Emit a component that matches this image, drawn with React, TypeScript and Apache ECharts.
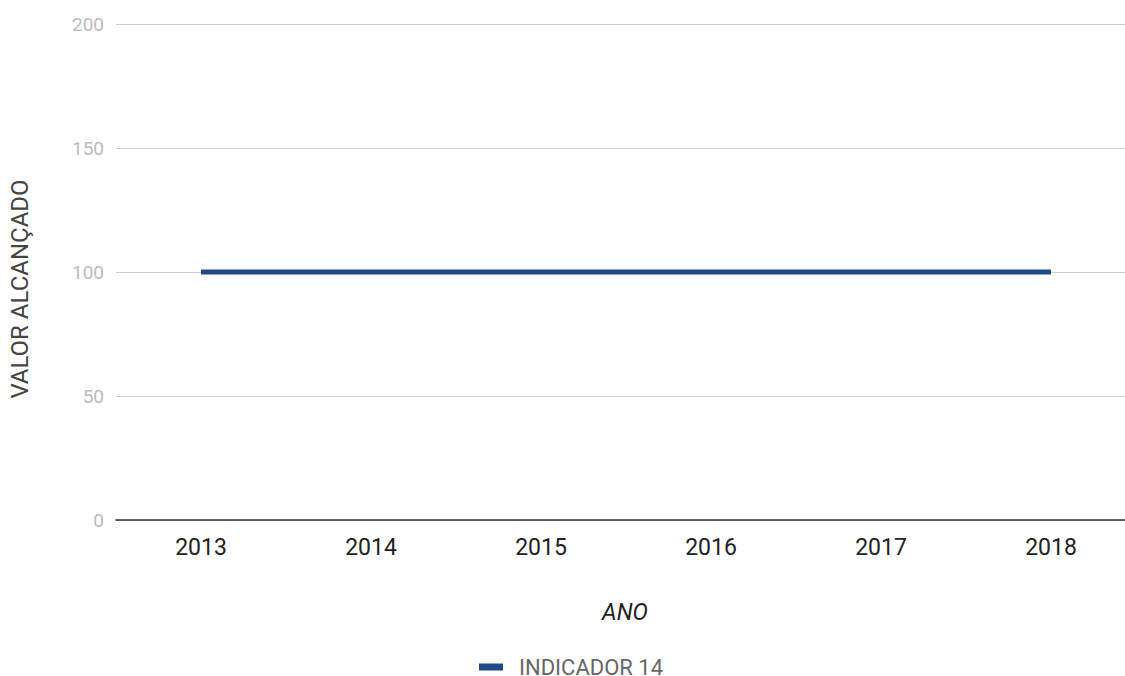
import React, { useEffect, useRef } from "react";
import * as echarts from "echarts";

const years = ["2013", "2014", "2015", "2016", "2017", "2018"];
const indicador14 = [100, 100, 100, 100, 100, 100];
const seriesName = "INDICADOR 14";
const yTicks = [0, 50, 100, 150, 200];

export default function App() {
  const ref = useRef<HTMLDivElement>(null);
  useEffect(() => {
    if (!ref.current) return;
    const chart = echarts.init(ref.current, undefined, { renderer: "svg" });
    const idx = years.map((_, i) => i);
    chart.setOption({
      animation: false,
      textStyle: { fontFamily: "Roboto" },
      grid: { left: 116, right: 0, top: 24, bottom: 156, containLabel: false },
      legend: {
        left: 479,
        top: 656,
        padding: 0,
        itemWidth: 24,
        itemHeight: 7,
        itemGap: 10,
        icon: "rect",
        textStyle: {
          color: "#666",
          fontSize: 22,
          fontFamily: "Roboto",
          padding: [0, 0, 0, 11],
        },
        data: [seriesName],
      },
      graphic: [
        {
          type: "text",
          x: 20,
          y: 289,
          rotation: Math.PI / 2,
          style: {
            text: "VALOR ALCANÇADO",
            fill: "#444",
            fontSize: 24,
            fontFamily: "Roboto",
            align: "center",
            verticalAlign: "middle",
          },
        },
      ],
      xAxis: {
        type: "value",
        min: -0.5,
        max: -0.5 + 1009 / 170,
        name: "ANO",
        nameLocation: "middle",
        nameGap: 81,
        nameTextStyle: {
          color: "#222",
          fontSize: 23,
          fontStyle: "italic",
          fontFamily: "Roboto",
          padding: [0, 0, 0, 9],
        },
        axisLine: { onZero: false, lineStyle: { color: "#333", width: 1.5 } },
        axisTick: { show: false },
        splitLine: { show: false },
        axisLabel: {
          color: "#222",
          fontSize: 23,
          margin: 16,
          fontFamily: "Roboto",
          customValues: idx,
          showMinLabel: true,
          showMaxLabel: true,
          formatter: (v: number) => years[Math.round(v)] ?? "",
        },
      },
      yAxis: {
        type: "value",
        min: 0,
        max: 200,
        interval: 50,
        axisLine: { show: false },
        axisTick: { show: false },
        axisLabel: { color: "#bbb", fontSize: 19, margin: 12, fontFamily: "Roboto", customValues: yTicks },
        splitLine: { lineStyle: { color: "#ccc", width: 1.2 } },
      },
      series: [
        {
          name: seriesName,
          type: "line",
          data: indicador14.map((v, i) => [i, v]),
          symbol: "none",
          lineStyle: { color: "#1f4a8a", width: 5 },
          itemStyle: { color: "#1f4a8a" },
        },
      ],
    });
    return () => chart.dispose();
  }, []);
  return (
    <div style={{ position: "absolute", left: 0, top: 0, width: 1125, height: 676, background: "#fff" }}>
      <div ref={ref} style={{ width: 1125, height: 676 }} />
    </div>
  );
}
